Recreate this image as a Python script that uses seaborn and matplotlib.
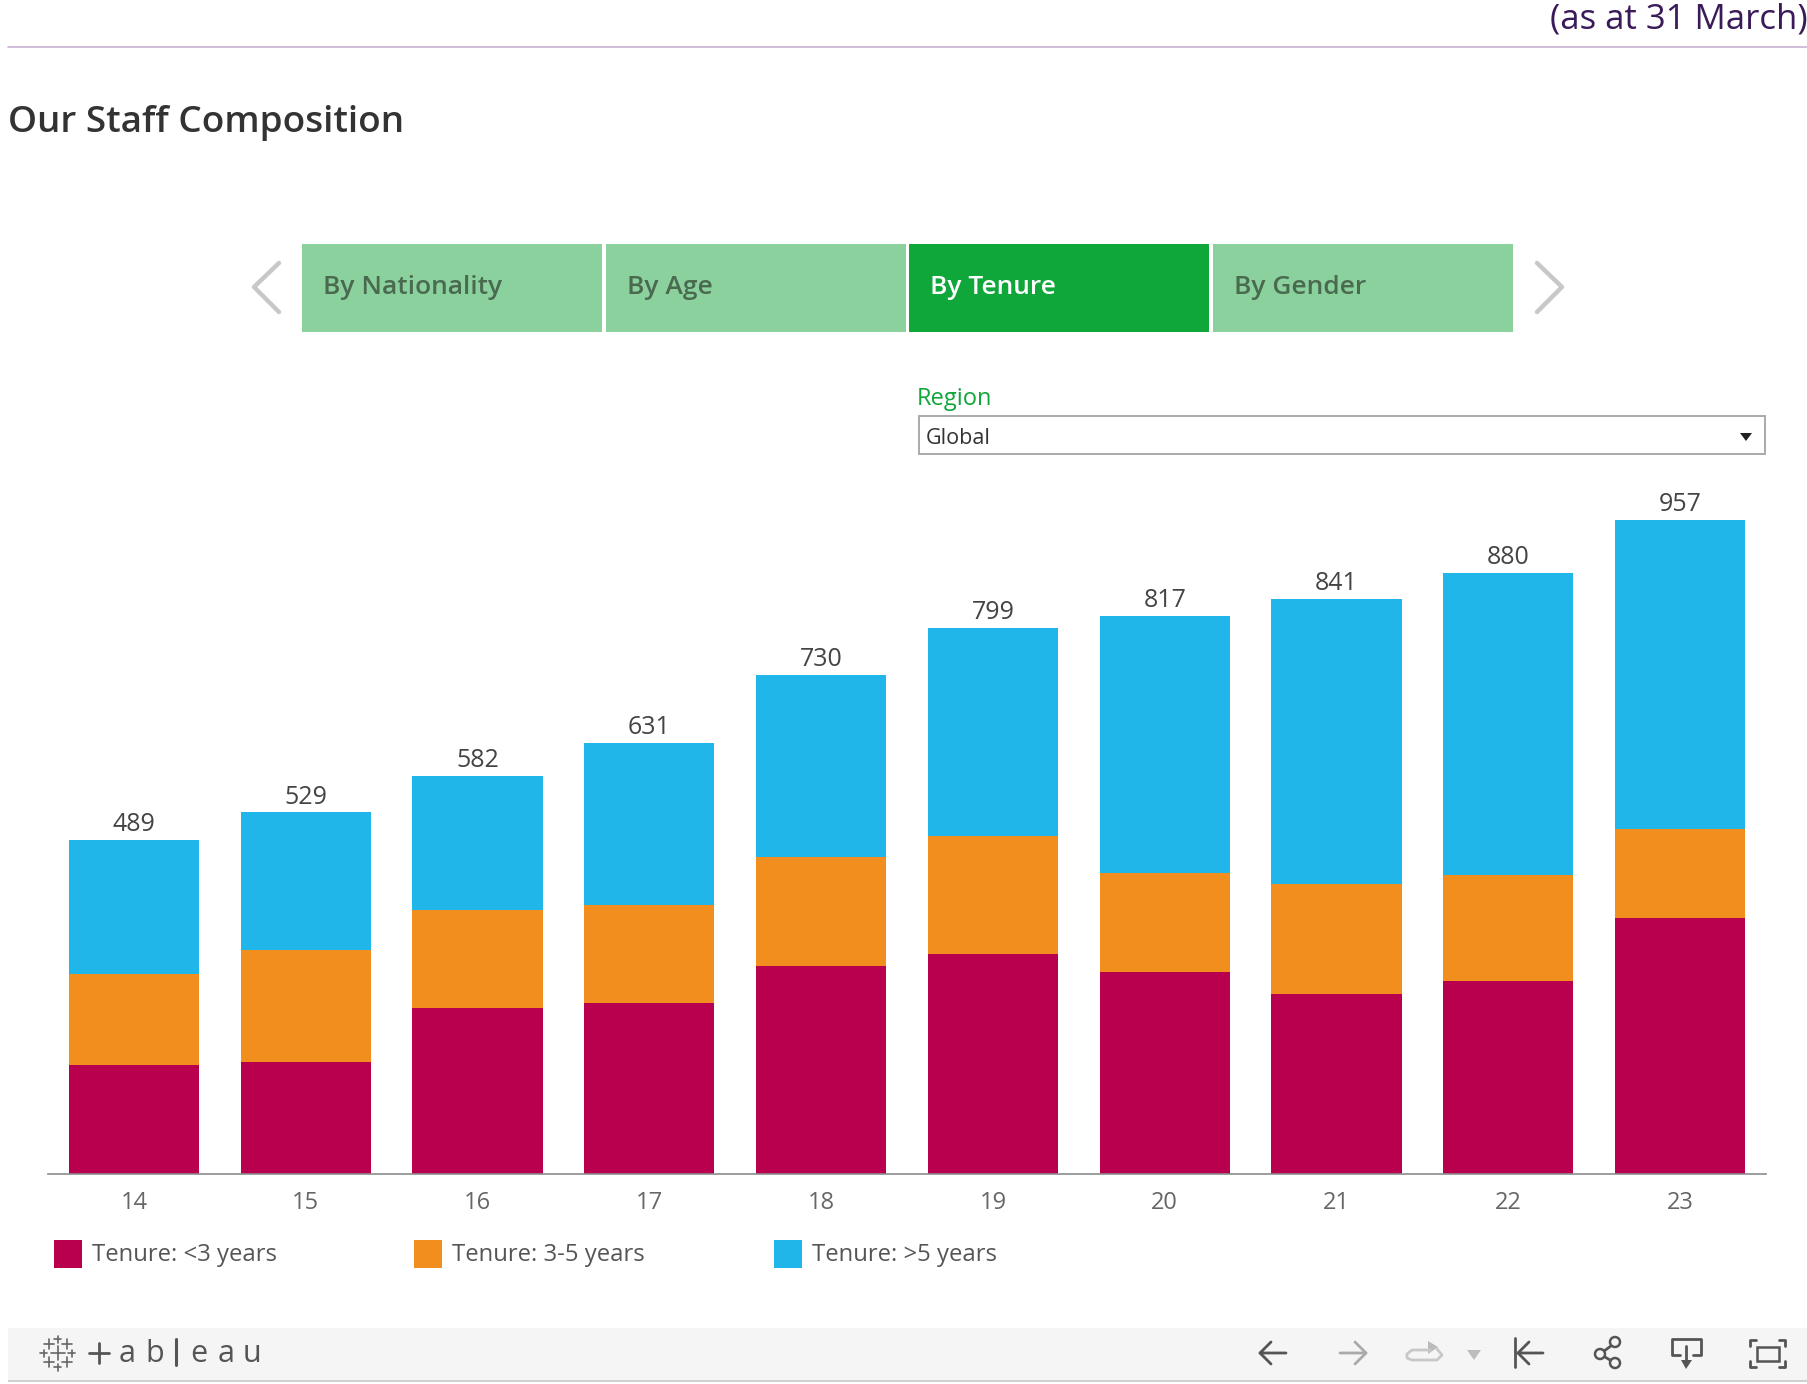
import seaborn as sns
import matplotlib.pyplot as plt
from matplotlib.patches import Rectangle, Circle, Polygon

# values
years = ['14', '15', '16', '17', '18', '19', '20', '21', '22', '23']
under_3 = [159, 164, 243, 250, 305, 322, 295, 263, 282, 375]
from_3_to_5 = [133, 163, 143, 143, 159, 173, 145, 162, 155, 130]
over_5 = [197, 202, 196, 238, 266, 304, 377, 416, 443, 452]
totals = [489, 529, 582, 631, 730, 799, 817, 841, 880, 957]
legend_labels = ['Tenure: <3 years', 'Tenure: 3-5 years', 'Tenure: >5 years']
tabs = ['By Nationality', 'By Age', 'By Tenure', 'By Gender']

RED = '#B8004F'
ORANGE = '#F28E1E'
BLUE = '#20B6E9'
GREEN = '#0FA63A'
LIGHT = '#8BD19D'

W, H = 1808, 1384
sns.set_theme(style='white')
plt.rcParams['font.family'] = ['Open Sans', 'DejaVu Sans']
fig = plt.figure(figsize=(W / 100, H / 100), dpi=100)

# bars
left, right, top, base = 48, 1766, 470, 1174
ax = fig.add_axes([left / W, 1 - base / H, (right - left) / W, (base - top) / H])
bottom = [0] * len(years)
for vals, col in zip([under_3, from_3_to_5, over_5], [RED, ORANGE, BLUE]):
    sns.barplot(x=years, y=vals, bottom=bottom, color=col, saturation=1, width=0.758,
                linewidth=0, ax=ax)
    bottom = [b + v for b, v in zip(bottom, vals)]
ax.bar_label(ax.containers[-1], labels=[str(t) for t in totals], padding=2,
             fontsize=18, fontweight=500, color='#444444')
ax.set_xlim(-0.5, 9.5)
ax.set_ylim(0, 1030)
ax.set_yticks([])
ax.set_ylabel('')
ax.patch.set_alpha(0)
sns.despine(ax=ax, left=True)
ax.spines['bottom'].set_color('#8c8c8c')
ax.spines['bottom'].set_linewidth(1.2)
ax.tick_params(axis='x', length=0, pad=12, labelsize=17, labelcolor='#666666')

# everything around the chart, in pixels
ui = fig.add_axes([0, 0, 1, 1], zorder=-1)
ui.set_xlim(0, W)
ui.set_ylim(H, 0)
ui.axis('off')


def line(xs, ys, col='#555555', lw=2.0):
    ui.plot(xs, ys, color=col, lw=lw, solid_capstyle='round', solid_joinstyle='round')


ui.text(1808, 20, '(as at 31 March)', ha='right', va='center', fontsize=25, color='#3B1A5A')
line([8, 1808], [47, 47], '#C9B3D6', 1.2)
ui.text(8, 123, 'Our Staff Composition', va='center', fontsize=26.6, fontweight=600, color='#333333')

# tabs
for i, name in enumerate(tabs):
    x0 = 302 + i * 303.7
    on = name == 'By Tenure'
    ui.add_patch(Rectangle((x0, 244), 300, 88, color=GREEN if on else LIGHT, lw=0))
    ui.text(x0 + 21, 287, name, va='center', fontsize=19, fontweight=600,
            color='white' if on else '#4A6A50')
line([279, 254, 279], [263, 287, 312], '#C8C8C8', 3.2)
line([1537, 1562, 1537], [263, 287, 312], '#C8C8C8', 3.2)

# region filter
ui.text(917, 399, 'Region', va='center', fontsize=17, fontweight=500, color=GREEN)
ui.add_patch(Rectangle((919, 416), 846, 38, fc='white', ec='#AAAAAA', lw=1.4))
ui.text(926, 439, 'Global', va='center', fontsize=15.5, color='#333333')
ui.add_patch(Polygon([[1740, 433], [1752, 433], [1746, 441]], color='#222222', lw=0))

# legend
for x0, col, name in zip([54, 414, 774], [RED, ORANGE, BLUE], legend_labels):
    ui.add_patch(Rectangle((x0, 1240), 28, 28, color=col, lw=0))
    ui.text(x0 + 38, 1255, name, va='center', fontsize=17.2, color='#555555')

# footer bar
ui.add_patch(Rectangle((8, 1328), 1800, 52, color='#F5F5F5', lw=0))
ui.add_patch(Rectangle((8, 1380), 1800, 2, color='#D0D0D0', lw=0))
for px, py, s in [(58, 1353, 7), (49, 1344, 5), (67, 1344, 5), (49, 1362, 5), (67, 1362, 5),
                  (58, 1339, 3.5), (58, 1367, 3.5), (44, 1353, 3.5), (72, 1353, 3.5)]:
    line([px - s, px + s], [py, py], '#666666', 1.2)
    line([px, px], [py - s, py + s], '#666666', 1.2)
line([89, 109], [1353, 1353], '#555555', 2.0)
line([99, 99], [1343, 1363], '#555555', 2.0)
line([176, 176], [1339, 1365], '#555555', 2.2)
for px, ch in zip([127, 155, 199, 226, 252], 'abeau'):
    ui.text(px, 1354, ch, ha='center', va='center', fontsize=22, color='#555555')

line([1286, 1260, 1271], [1353, 1353, 1342])
line([1260, 1271], [1353, 1364])
line([1340, 1366, 1355], [1353, 1353, 1342], '#AAAAAA')
line([1366, 1355], [1353, 1364], '#AAAAAA')
line([1430, 1412, 1407, 1407, 1412, 1437, 1442, 1437], [1350, 1350, 1354, 1358, 1360, 1360, 1355, 1349],
     '#C8C8C8')
ui.add_patch(Polygon([[1428, 1341], [1428, 1354], [1438, 1347]], color='#BBBBBB', lw=0))
ui.add_patch(Polygon([[1467, 1350], [1481, 1350], [1474, 1360]], color='#BDBDBD', lw=0))
line([1515, 1515], [1338, 1367])
line([1543, 1518, 1529], [1353, 1353, 1342])
line([1518, 1529], [1353, 1364])
line([1600, 1615], [1354, 1343])
line([1600, 1615], [1354, 1363])
for cx, cy in [(1615, 1342), (1600, 1354), (1615, 1363)]:
    ui.add_patch(Circle((cx, cy), 5, fc='#F5F5F5', ec='#555555', lw=1.8, zorder=3))
line([1680, 1672, 1672, 1701, 1701, 1693], [1355, 1355, 1339, 1339, 1355, 1355])
line([1686, 1686], [1346, 1362])
ui.add_patch(Polygon([[1681, 1360], [1692, 1360], [1686, 1369]], color='#555555', lw=0))
ui.add_patch(Rectangle((1757, 1347), 22, 14, fc='none', ec='#555555', lw=1.8))
line([1750, 1750, 1756], [1346, 1340, 1340])
line([1779, 1785, 1785], [1340, 1340, 1346])
line([1750, 1750, 1756], [1361, 1367, 1367])
line([1779, 1785, 1785], [1367, 1367, 1361])

fig.savefig('out.png', dpi=100)
